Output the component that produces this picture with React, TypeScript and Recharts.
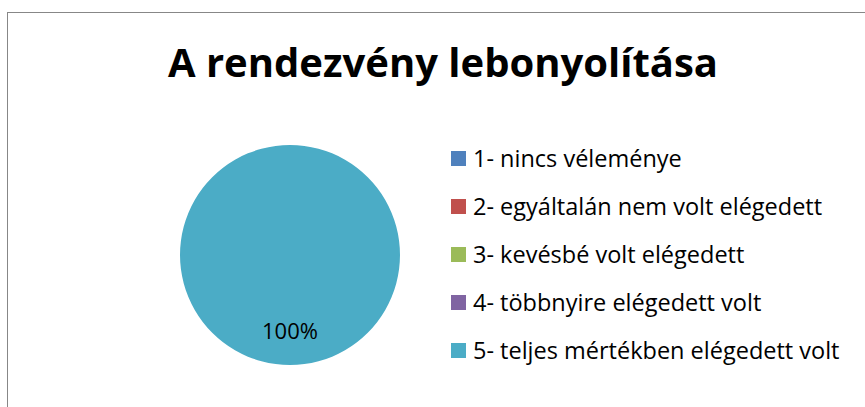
import React from "react";
import { Cell, Legend, Pie, PieChart } from "recharts";

const categories = [
  "1- nincs véleménye",
  "2- egyáltalán nem volt elégedett",
  "3- kevésbé volt elégedett",
  "4- többnyire elégedett volt",
  "5- teljes mértékben elégedett volt",
];
const values = [0, 0, 0, 0, 100];
const colors = ["#4F81BD", "#C0504D", "#9BBB59", "#8064A2", "#4BACC6"];
const title = "A rendezvény lebonyolítása";

const data = categories.map((name, i) => ({ name, value: values[i] }));

const FONT = "'Open Sans', Lato, sans-serif";
const RAD = Math.PI / 180;

function renderLabel(props: any) {
  const { cx, cy, midAngle, outerRadius, percent, value } = props;
  if (!value) return null;
  const r = outerRadius * 0.68;
  const x = cx + r * Math.cos(-midAngle * RAD);
  const y = cy + r * Math.sin(-midAngle * RAD);
  return (
    <text
      x={x}
      y={y}
      textAnchor="middle"
      dominantBaseline="central"
      fill="#000"
      fontFamily={FONT}
      fontSize={22}
    >
      {`${Math.round(percent * 100)}%`}
    </text>
  );
}

function LegendContent(props: any) {
  const payload = props.payload || [];
  return (
    <div style={{ fontFamily: FONT }}>
      {payload.map((entry: any, i: number) => (
        <div
          key={i}
          style={{ display: "flex", alignItems: "center", height: 48 }}
        >
          <span
            style={{
              display: "inline-block",
              width: 15,
              height: 15,
              background: entry.color,
              marginRight: 7,
            }}
          />
          <span
            style={{ fontSize: 23.5, color: "#000", whiteSpace: "nowrap" }}
          >
            {entry.value}
          </span>
        </div>
      ))}
    </div>
  );
}

export default function App() {
  return (
    <div
      style={{
        position: "absolute",
        left: 0,
        top: 0,
        width: 865,
        height: 407,
        background: "#fff",
        overflow: "hidden",
      }}
    >
      <div
        style={{
          position: "absolute",
          left: 7,
          top: 12,
          width: 900,
          height: 500,
          borderTop: "1px solid #878787",
          borderLeft: "1px solid #878787",
        }}
      />
      <svg
        width={865}
        height={407}
        style={{ position: "absolute", left: 0, top: 0, pointerEvents: "none" }}
      >
        <text
          x={443}
          y={77}
          textAnchor="middle"
          fontFamily={FONT}
          fontWeight="bold"
          fontSize={40}
          fill="#000"
        >
          {title}
        </text>
      </svg>
      <div style={{ position: "absolute", left: 0, top: 0 }}>
        <PieChart
          width={865}
          height={407}
          margin={{ top: 0, right: 0, bottom: 0, left: 0 }}
        >
          <Pie
            data={data}
            dataKey="value"
            nameKey="name"
            cx={290}
            cy={255}
            outerRadius={110}
            startAngle={90}
            endAngle={-270}
            stroke="none"
            label={renderLabel}
            labelLine={false}
            isAnimationActive={false}
          >
            {data.map((d, i) => (
              <Cell key={d.name} fill={colors[i]} />
            ))}
          </Pie>
          <Legend
            layout="vertical"
            align="right"
            verticalAlign="top"
            content={<LegendContent />}
            wrapperStyle={{ left: 451, top: 134, width: 414 }}
          />
        </PieChart>
      </div>
    </div>
  );
}
